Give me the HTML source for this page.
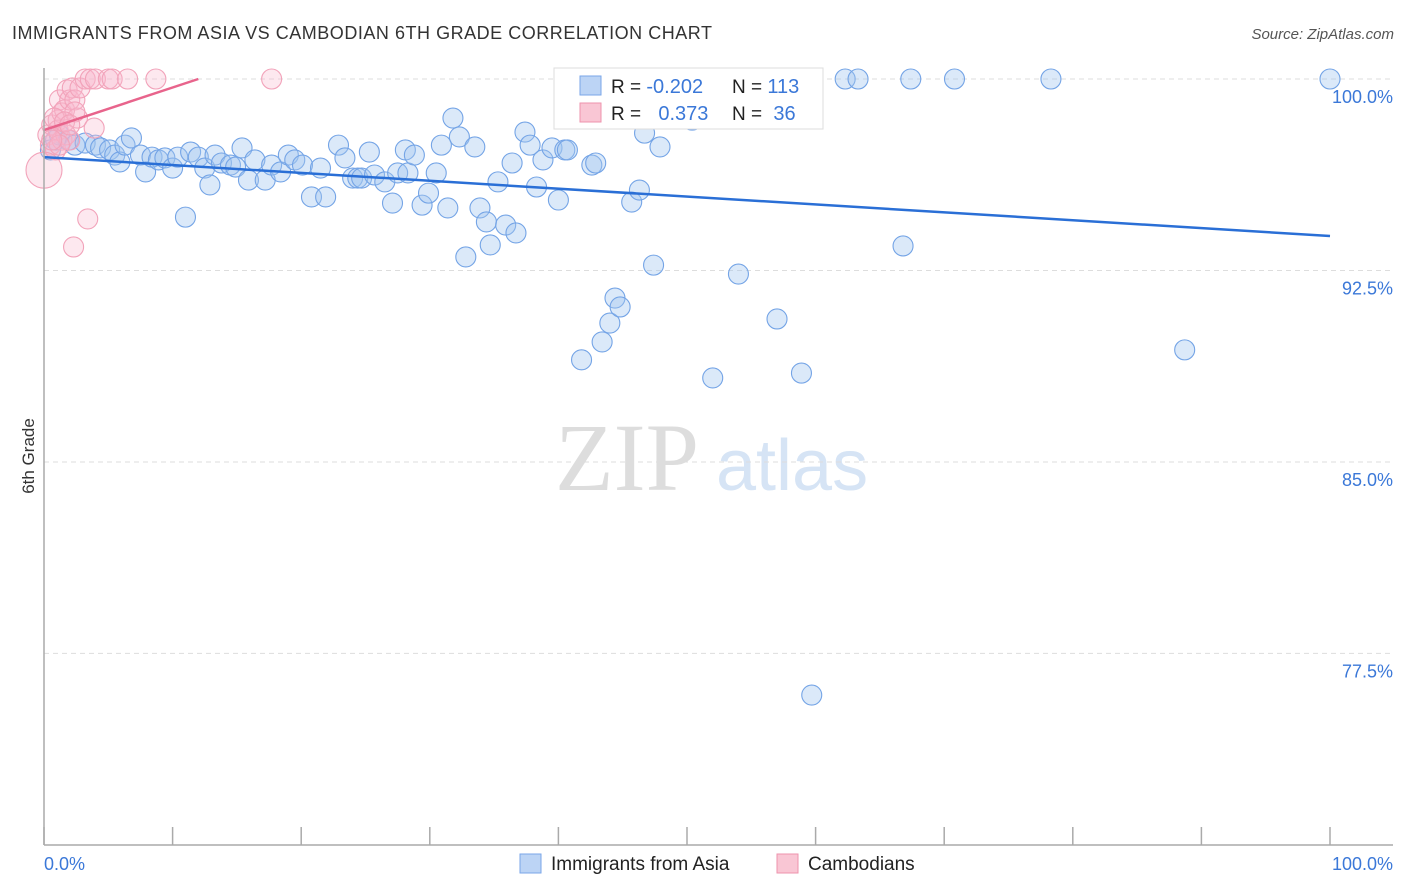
<!DOCTYPE html>
<html><head><meta charset="utf-8"><style>
body{margin:0;background:#fff;font-family:"Liberation Sans",sans-serif;}
#wrap{position:relative;width:1406px;height:892px;overflow:hidden;}
</style></head><body>
<div id="wrap">
<svg id="svg" width="1406" height="892" xmlns="http://www.w3.org/2000/svg">
<text x="12" y="39" font-size="18" fill="#333" textLength="700" lengthAdjust="spacing">IMMIGRANTS FROM ASIA VS CAMBODIAN 6TH GRADE CORRELATION CHART</text>
<text x="1394" y="39" font-size="15" fill="#555" font-style="italic" text-anchor="end">Source: ZipAtlas.com</text>
<text x="34" y="456" font-size="17" fill="#333" transform="rotate(-90 34 456)" text-anchor="middle">6th Grade</text>
<text x="555" y="490" font-size="96" fill="#ddd" font-family="Liberation Serif,serif">ZIP</text>
<text x="716" y="490" font-size="72" fill="#d6e4f5">atlas</text>
<g id="grid"></g><g id="pts"></g><g id="lines"></g>
<line x1="44" y1="68" x2="44" y2="845" stroke="#aaa" stroke-width="1.5"/>
<line x1="44" y1="845" x2="1393" y2="845" stroke="#aaa" stroke-width="1.5"/>
<g id="xt"></g>
<text x="44" y="870" font-size="18" fill="#3b78d8">0.0%</text>
<text x="1393" y="870" font-size="18" fill="#3b78d8" text-anchor="end">100.0%</text>
<g>
<rect x="554" y="68" width="269" height="61" fill="#fff" stroke="#ddd"/>
<rect x="580" y="76" width="21" height="19" fill="#bcd4f5" stroke="#7aa6e8"/>
<rect x="580" y="103" width="21" height="19" fill="#f9c6d4" stroke="#ee93ad"/>
<text x="611" y="93" font-size="19" fill="#222">R = <tspan fill="#3b78d8" font-size="20">-0.202</tspan></text>
<text x="732" y="93" font-size="19" fill="#222">N = <tspan fill="#3b78d8" font-size="20">113</tspan></text>
<text x="611" y="120" font-size="19" fill="#222">R = <tspan fill="#3b78d8" dx="12" font-size="20">0.373</tspan></text>
<text x="732" y="120" font-size="19" fill="#222">N = <tspan fill="#3b78d8" dx="6" font-size="20">36</tspan></text>
</g>
<g>
<rect x="520" y="854" width="21" height="19" fill="#bcd4f5" stroke="#7aa6e8"/>
<text x="551" y="870" font-size="19" fill="#222">Immigrants from Asia</text>
<rect x="777" y="854" width="21" height="19" fill="#f9c6d4" stroke="#ee93ad"/>
<text x="808" y="870" font-size="19" fill="#222">Cambodians</text>
</g>
</svg></div>
<script>
const yTicks=[100,92.5,85,77.5];
const yTickLabels=["100.0%","92.5%","85.0%","77.5%"];
const xTicks=[0,10,20,30,40,50,60,70,80,90,100];
const blueX=[0.5,0.9,1.2,1.9,2.4,3.2,4.0,4.4,5.1,5.5,5.9,6.3,6.8,7.5,7.9,8.4,8.9,9.4,10.0,10.4,11.0,11.4,12.0,12.5,12.9,13.3,13.8,14.5,14.9,15.4,15.9,16.4,17.2,17.7,18.4,19.0,19.5,20.1,20.8,21.5,21.9,22.9,23.4,24.0,24.4,24.7,25.3,25.7,26.5,27.1,27.5,28.1,28.3,28.8,29.4,29.9,30.5,30.9,31.4,31.8,32.3,32.8,33.5,33.9,34.4,34.7,35.3,35.9,36.4,36.7,37.4,37.8,38.3,38.8,39.5,40.0,40.5,40.7,41.8,42.6,42.9,43.4,44.0,44.4,44.8,45.2,45.7,46.3,46.7,47.4,47.9,50.4,52.0,53.2,54.0,57.0,58.9,59.7,62.3,63.3,66.8,67.4,70.8,78.3,88.7,100];
const blueY=[97.22,97.61,97.81,97.61,97.41,97.49,97.41,97.30,97.22,97.02,96.75,97.41,97.69,97.02,96.36,96.94,96.83,96.91,96.51,96.94,94.59,97.14,96.94,96.51,95.85,97.02,96.71,96.63,96.55,97.30,96.04,96.83,96.04,96.63,96.36,97.02,96.83,96.63,95.38,96.51,95.38,97.41,96.91,96.12,96.12,96.12,97.14,96.24,95.97,95.14,96.32,97.22,96.32,97.02,95.06,95.53,96.32,97.41,94.95,98.47,97.73,93.03,97.34,94.95,94.40,93.50,95.97,94.28,96.71,93.97,97.92,97.41,95.77,96.83,97.30,95.26,97.22,97.22,89.0,96.63,96.71,89.70,90.44,91.42,91.07,98.98,95.18,95.65,97.88,92.71,97.34,98.39,88.29,99.96,92.36,90.60,88.48,75.87,100,100,93.46,100,100,100,89.39,100];
const pinkX=[0.3,0.5,0.6,0.9,1.1,1.2,1.4,1.6,1.8,2.0,2.2,2.4,2.6,2.8,3.2,3.6,4.0,5.0,5.3,6.5,8.7,17.7,1.4,1.1,1.7,2.0,2.4,3.4,2.3,0,3.9,0.8,1.2,0.6,1.6,2.0];
const pinkY=[97.81,97.41,98.20,97.22,98.39,99.18,98.67,98.79,99.57,99.18,99.65,99.18,98.47,99.65,100,100,100,100,100,100,100,100,97.61,98.00,97.81,97.61,98.71,94.52,93.42,96.43,98.08,98.47,97.41,97.61,98.32,98.20];
const pinkR=[10,10,10,10,10,10,10,10,10,10,10,10,10,10,10,10,10,10,10,10,10,10,10,10,10,10,10,10,10,18,10,10,10,10,10,10];
const blueTrend=[[0,96.94],[100,93.85]];
const pinkTrend=[[0,98.0],[12,100]];
const X=v=>44+v*12.86, Y=v=>79+(100-v)*25.53;
const NS="http://www.w3.org/2000/svg";
function mk(t,a,p){const e=document.createElementNS(NS,t);for(const k in a)e.setAttribute(k,a[k]);document.getElementById(p).appendChild(e);return e;}
yTicks.forEach((v,i)=>{
 const l=mk('line',{x1:44,x2:1393,y1:Y(v),y2:Y(v),stroke:'#ddd','stroke-dasharray':'5,4'},'grid');
 
 
 const t=mk('text',{x:1393,y:Y(v)+24,'font-size':18,fill:'#3b78d8','text-anchor':'end'},'grid');t.textContent=yTickLabels[i];
 
 
});
xTicks.forEach(v=>{const l=mk('line',{x1:X(v),x2:X(v),y1:827,y2:845,stroke:'#aaa','stroke-width':1.5},'xt');
 
 });
blueX.forEach((v,i)=>{const c=mk('circle',{cx:X(v),cy:Y(blueY[i]),r:10,fill:'rgba(160,196,240,0.38)',stroke:'#74a4e6','stroke-width':1.1},'pts');
 
 });
pinkX.forEach((v,i)=>{const c=mk('circle',{cx:X(v),cy:Y(pinkY[i]),r:pinkR[i],fill:'rgba(248,185,205,0.32)',stroke:'#f2a3ba','stroke-width':1.1},'pts');
 
 });
const bl=mk('line',{x1:X(blueTrend[0][0]),y1:Y(blueTrend[0][1]),x2:X(blueTrend[1][0]),y2:Y(blueTrend[1][1]),stroke:'#2a6fd6','stroke-width':2.5},'lines');


const pl=mk('line',{x1:X(pinkTrend[0][0]),y1:Y(pinkTrend[0][1]),x2:X(pinkTrend[1][0]),y2:Y(pinkTrend[1][1]),stroke:'#e8648c','stroke-width':2.5},'lines');


</script>
</body></html>
